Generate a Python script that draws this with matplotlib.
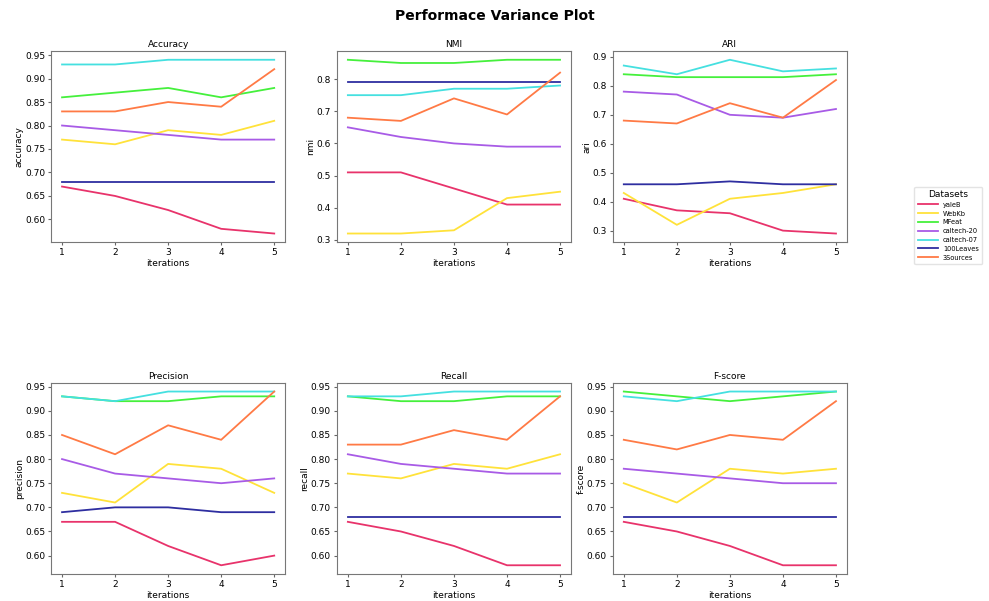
import matplotlib
matplotlib.use("Agg")
import matplotlib.pyplot as plt

iterations = [1, 2, 3, 4, 5]
datasets = ["yaleB", "WebKb", "MFeat", "caltech-20", "caltech-07", "100Leaves", "3Sources"]
colors = ["#e8336b", "#ffe23a", "#45f03c", "#a85be6", "#45e0e0", "#2e2ea0", "#ff7a45"]

accuracy = [
    [0.67, 0.65, 0.62, 0.58, 0.57],
    [0.77, 0.76, 0.79, 0.78, 0.81],
    [0.86, 0.87, 0.88, 0.86, 0.88],
    [0.80, 0.79, 0.78, 0.77, 0.77],
    [0.93, 0.93, 0.94, 0.94, 0.94],
    [0.68, 0.68, 0.68, 0.68, 0.68],
    [0.83, 0.83, 0.85, 0.84, 0.92],
]
nmi = [
    [0.51, 0.51, 0.46, 0.41, 0.41],
    [0.32, 0.32, 0.33, 0.43, 0.45],
    [0.86, 0.85, 0.85, 0.86, 0.86],
    [0.65, 0.62, 0.60, 0.59, 0.59],
    [0.75, 0.75, 0.77, 0.77, 0.78],
    [0.79, 0.79, 0.79, 0.79, 0.79],
    [0.68, 0.67, 0.74, 0.69, 0.82],
]
ari = [
    [0.41, 0.37, 0.36, 0.30, 0.29],
    [0.43, 0.32, 0.41, 0.43, 0.46],
    [0.84, 0.83, 0.83, 0.83, 0.84],
    [0.78, 0.77, 0.70, 0.69, 0.72],
    [0.87, 0.84, 0.89, 0.85, 0.86],
    [0.46, 0.46, 0.47, 0.46, 0.46],
    [0.68, 0.67, 0.74, 0.69, 0.82],
]
precision = [
    [0.67, 0.67, 0.62, 0.58, 0.60],
    [0.73, 0.71, 0.79, 0.78, 0.73],
    [0.93, 0.92, 0.92, 0.93, 0.93],
    [0.80, 0.77, 0.76, 0.75, 0.76],
    [0.93, 0.92, 0.94, 0.94, 0.94],
    [0.69, 0.70, 0.70, 0.69, 0.69],
    [0.85, 0.81, 0.87, 0.84, 0.94],
]
recall = [
    [0.67, 0.65, 0.62, 0.58, 0.58],
    [0.77, 0.76, 0.79, 0.78, 0.81],
    [0.93, 0.92, 0.92, 0.93, 0.93],
    [0.81, 0.79, 0.78, 0.77, 0.77],
    [0.93, 0.93, 0.94, 0.94, 0.94],
    [0.68, 0.68, 0.68, 0.68, 0.68],
    [0.83, 0.83, 0.86, 0.84, 0.93],
]
fscore = [
    [0.67, 0.65, 0.62, 0.58, 0.58],
    [0.75, 0.71, 0.78, 0.77, 0.78],
    [0.94, 0.93, 0.92, 0.93, 0.94],
    [0.78, 0.77, 0.76, 0.75, 0.75],
    [0.93, 0.92, 0.94, 0.94, 0.94],
    [0.68, 0.68, 0.68, 0.68, 0.68],
    [0.84, 0.82, 0.85, 0.84, 0.92],
]

metrics = [
    ("Accuracy", "accuracy", accuracy),
    ("NMI", "nmi", nmi),
    ("ARI", "ari", ari),
    ("Precision", "precision", precision),
    ("Recall", "recall", recall),
    ("F-score", "f-score", fscore),
]

fig = plt.figure(figsize=(9.89, 6.01), dpi=100)
fig.suptitle("Performace Variance Plot", fontsize=10, fontweight="bold", y=0.985)

lefts = [0.052, 0.341, 0.620]
bottoms = [0.597, 0.045]
w, h = 0.236, 0.318

handles = []
for i, (title, ylabel, values) in enumerate(metrics):
    ax = fig.add_axes([lefts[i % 3], bottoms[i // 3], w, h])
    for name, col, vals in zip(datasets, colors, values):
        ln, = ax.plot(iterations, vals, color=col, lw=1.3, label=name)
        if i == 0:
            handles.append(ln)
    ax.set_title(title, fontsize=6.5, pad=3)
    ax.set_xlabel("iterations", fontsize=6.5, labelpad=1)
    ax.set_ylabel(ylabel, fontsize=6.5, labelpad=1)
    ax.set_xticks(iterations)
    ax.tick_params(labelsize=6.5, length=2.5, pad=2, color="#666666")
    for s in ax.spines.values():
        s.set_color("#777777")

leg = fig.legend(handles=handles, title="Datasets", loc="upper left",
                 bbox_to_anchor=(0.921, 0.695), fontsize=4.8, title_fontsize=6.5,
                 handlelength=3, frameon=True, borderpad=0.5, labelspacing=0.42)
leg.get_frame().set_edgecolor("#dddddd")

fig.savefig("out.png", dpi=100)
